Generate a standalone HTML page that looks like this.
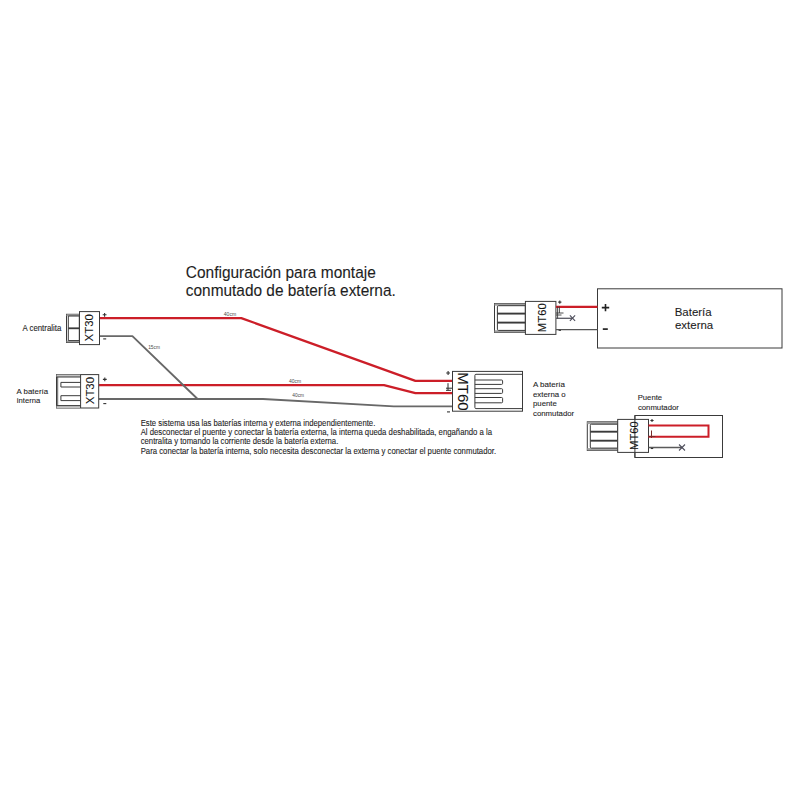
<!DOCTYPE html>
<html><head><meta charset="utf-8">
<style>
html,body{margin:0;padding:0;background:#fff;width:800px;height:800px;overflow:hidden}
svg{display:block}
text{font-family:"Liberation Sans",sans-serif;fill:#1e1e1e;stroke:#1e1e1e;stroke-width:0.1px}
.k{fill:#151515;stroke:#151515;stroke-width:0.08px}
.pm{stroke:#333;stroke-width:1.1;fill:none}
</style></head><body>
<svg width="800" height="800" viewBox="0 0 800 800">
<rect width="800" height="800" fill="#fff"/>

<!-- Title -->
<text x="185.8" y="277.6" font-size="16.2" textLength="190" lengthAdjust="spacingAndGlyphs">Configuración para montaje</text>
<text x="185.8" y="295.6" font-size="16.2" textLength="210" lengthAdjust="spacingAndGlyphs">conmutado de batería externa.</text>

<!-- Left labels -->
<text x="22.5" y="330.9" font-size="8.4" textLength="38.8" lengthAdjust="spacingAndGlyphs">A centralita</text>
<text x="16.6" y="394.3" font-size="8.1" textLength="31.5" lengthAdjust="spacingAndGlyphs">A batería</text>
<text x="16.8" y="403.4" font-size="8.1" textLength="23.4" lengthAdjust="spacingAndGlyphs">interna</text>

<!-- Wires -->
<g fill="none" stroke-linejoin="round">
  <polyline points="99.5,318.1 241.3,318.1 415.4,380.8 452.5,380.8" stroke="#cc1e28" stroke-width="2.3"/>
  <polyline points="98.7,385.2 384,385.2 415.4,393.1 452.5,393.1" stroke="#cc1e28" stroke-width="2.3"/>
  <polyline points="99.5,336.1 132.4,336.1 197.6,399" stroke="#686868" stroke-width="1.9"/>
  <polyline points="98.7,399 263,399 393.8,406.4 452.5,406.4" stroke="#686868" stroke-width="1.9"/>
</g>

<!-- wire labels -->
<text x="223.8" y="315.8" font-size="5" style="fill:#4a4a4a;stroke:none" textLength="12.4" lengthAdjust="spacingAndGlyphs">40cm</text>
<text x="289" y="382.6" font-size="5" style="fill:#4a4a4a;stroke:none" textLength="12.2" lengthAdjust="spacingAndGlyphs">40cm</text>
<text x="292.3" y="396.8" font-size="5" style="fill:#4a4a4a;stroke:none" textLength="11.8" lengthAdjust="spacingAndGlyphs">40cm</text>
<text x="148.2" y="348.8" font-size="5" style="fill:#4a4a4a;stroke:none" textLength="11.8" lengthAdjust="spacingAndGlyphs">15cm</text>

<!-- XT30 top -->
<g fill="none" stroke="#3a3a3a" stroke-width="1">
  <rect x="66.5" y="314.3" width="12.8" height="28.2" fill="#fff"/>
  <rect x="66.5" y="314.3" width="12.8" height="1.8" fill="#a0a0a0" stroke="none"/>
  <rect x="66.5" y="340.6" width="12.8" height="1.8" fill="#a0a0a0" stroke="none"/>
  <line x1="68.3" y1="316" x2="68.3" y2="340.6"/>
  <line x1="68.3" y1="316" x2="79.3" y2="316"/>
  <line x1="68.3" y1="340.6" x2="79.3" y2="340.6"/>
  <line x1="68.3" y1="328.3" x2="79.3" y2="328.3" stroke-width="1.8"/>
  <rect x="79.5" y="311.6" width="20" height="33" fill="#fff"/>
</g>
<text class="k" transform="translate(93.4,327.8) rotate(-90)" font-size="11.4" text-anchor="middle">XT30</text>

<!-- XT30 bottom -->
<g fill="none" stroke="#3a3a3a" stroke-width="1">
  <rect x="56.5" y="374.6" width="42.2" height="33.4" fill="#fff"/>
  <rect x="56.5" y="374.6" width="24" height="2.4" fill="#c4c4c4" stroke="none"/>
  <rect x="56.5" y="405.6" width="24" height="2.4" fill="#c4c4c4" stroke="none"/>
  <line x1="56.5" y1="377" x2="80.6" y2="377"/>
  <line x1="56.5" y1="405.6" x2="80.6" y2="405.6"/>
  <line x1="57.7" y1="377" x2="57.7" y2="405.6" stroke-width="0.8"/>
  <line x1="80.6" y1="374.6" x2="80.6" y2="408"/>
  <path d="M80.6,382.4 H60.9 V387 H80.6"/>
  <path d="M80.6,395.7 H60.9 V400.6 H80.6"/>
</g>
<text class="k" transform="translate(93.6,390.6) rotate(-90)" font-size="11.4" text-anchor="middle">XT30</text>

<!-- MT60 middle -->
<g fill="none" stroke="#3a3a3a" stroke-width="1">
  <rect x="452.5" y="371.4" width="70" height="39.8" fill="#fff"/>
  <path d="M522.5,374.3 H476 Q474.9,374.3 474.9,375.4 V407.5 Q474.9,408.6 476,408.6 H522.5"/>
  <path d="M474.9,380 H501.6 Q502.6,380 502.6,381 V383.4 Q502.6,384.4 501.6,384.4 H474.9"/>
  <path d="M474.9,388.7 H501.6 Q502.6,388.7 502.6,389.7 V392.4 Q502.6,393.4 501.6,393.4 H474.9"/>
  <path d="M474.9,397.5 H501.6 Q502.6,397.5 502.6,398.5 V401.8 Q502.6,402.8 501.6,402.8 H474.9"/>
</g>
<text class="k" transform="translate(457.8,391.4) rotate(90)" font-size="15" text-anchor="middle">MT60</text>
<g stroke="#2a2a2a" stroke-width="1" fill="none">
  <line x1="448" y1="383.2" x2="448" y2="390.4"/>
  <line x1="446" y1="388.2" x2="452" y2="388.2"/>
  <line x1="446" y1="390.3" x2="451" y2="390.3"/>
</g>

<text x="533" y="387.4" font-size="8.1" textLength="32" lengthAdjust="spacingAndGlyphs">A batería</text>
<text x="533" y="396.5" font-size="8.1" textLength="32.6" lengthAdjust="spacingAndGlyphs">externa o</text>
<text x="533" y="405.8" font-size="8.1" textLength="23.8" lengthAdjust="spacingAndGlyphs">puente</text>
<text x="533" y="415.5" font-size="8.1" textLength="41.2" lengthAdjust="spacingAndGlyphs">conmutador</text>

<!-- Paragraph -->
<text x="140.7" y="425.9" font-size="8.4" textLength="234.6" lengthAdjust="spacingAndGlyphs">Este sistema usa las baterías interna y externa independientemente.</text>
<text x="140.7" y="434.9" font-size="8.4" textLength="351.4" lengthAdjust="spacingAndGlyphs">Al desconectar el puente y conectar la batería externa, la interna queda deshabilitada, engañando a la</text>
<text x="140.7" y="444.3" font-size="8.4" textLength="197.6" lengthAdjust="spacingAndGlyphs">centralita y tomando la corriente desde la batería externa.</text>
<text x="140.7" y="453.6" font-size="8.4" textLength="355.4" lengthAdjust="spacingAndGlyphs">Para conectar la batería interna, solo necesita desconectar la externa y conectar el puente conmutador.</text>

<!-- Top right: MT60 + Bateria externa -->
<g fill="none" stroke="#3a3a3a" stroke-width="1">
  <rect x="494.5" y="303.5" width="30.8" height="28.9" fill="#fff"/>
  <rect x="494.5" y="303.5" width="30.8" height="2.2" fill="#a0a0a0" stroke="none"/>
  <rect x="494.5" y="330.3" width="30.8" height="2.1" fill="#a0a0a0" stroke="none"/>
  <path d="M525.3,305.7 H498.5 Q497.4,305.7 497.4,306.8 V329.3 Q497.4,330.4 498.5,330.4 H525.3"/>
  <line x1="497.4" y1="313.6" x2="525.3" y2="313.6" stroke-width="1.9"/>
  <line x1="497.4" y1="322.6" x2="525.3" y2="322.6" stroke-width="1.9"/>
  <rect x="525.4" y="301.4" width="30.5" height="33" fill="#fff"/>
  <rect x="597.5" y="288.8" width="184.5" height="59.2"/>
</g>
<text class="k" transform="translate(546.3,317.7) rotate(-90)" font-size="11.3" text-anchor="middle">MT60</text>
<line x1="556" y1="306.8" x2="597.5" y2="306.8" stroke="#cc1e28" stroke-width="2.2"/>
<line x1="556" y1="329.7" x2="597.5" y2="329.7" stroke="#555" stroke-width="1.3"/>
<line x1="556" y1="318.3" x2="572.5" y2="318.3" stroke="#5a5a64" stroke-width="1.3"/>
<g stroke="#4e4e5c" stroke-width="1.1">
  <line x1="569.9" y1="315.3" x2="575.1" y2="320.9"/>
  <line x1="575.1" y1="315.3" x2="569.9" y2="320.9"/>
</g>
<g stroke="#3a3a3a" stroke-width="0.9" fill="none">
  <line x1="557.6" y1="306.5" x2="557.6" y2="318.5"/>
  <line x1="559.4" y1="306.5" x2="559.4" y2="313"/>
  <line x1="556" y1="313" x2="563.5" y2="313"/>
  <line x1="556" y1="315" x2="561.5" y2="315"/>
</g>
<text x="674.7" y="316.1" font-size="11.6" textLength="37" lengthAdjust="spacingAndGlyphs">Batería</text>
<text x="675" y="328.9" font-size="11.6" textLength="38.2" lengthAdjust="spacingAndGlyphs">externa</text>

<!-- Puente conmutador -->
<text x="637.7" y="400.3" font-size="8.1" textLength="24.4" lengthAdjust="spacingAndGlyphs">Puente</text>
<text x="637.9" y="410.1" font-size="8.1" textLength="41" lengthAdjust="spacingAndGlyphs">conmutador</text>
<g fill="none" stroke="#3a3a3a" stroke-width="1">
  <rect x="634.9" y="415.5" width="87.6" height="42"/>
  <rect x="587.3" y="421.8" width="30.4" height="28.7" fill="#fff"/>
  <rect x="587.3" y="421.8" width="30.4" height="2.4" fill="#a0a0a0" stroke="none"/>
  <rect x="587.3" y="448.1" width="30.4" height="2.4" fill="#a0a0a0" stroke="none"/>
  <path d="M617.7,424.2 H591.4 Q590.3,424.2 590.3,425.3 V447 Q590.3,448.1 591.4,448.1 H617.7"/>
  <line x1="590.3" y1="431.7" x2="617.7" y2="431.7" stroke-width="1.9"/>
  <line x1="590.3" y1="440.7" x2="617.7" y2="440.7" stroke-width="1.9"/>
  <rect x="617.7" y="419.4" width="30.8" height="33" fill="#fff"/>
  <line x1="634.9" y1="415.5" x2="634.9" y2="457.5"/>
</g>
<text class="k" transform="translate(638,435.6) rotate(-90)" font-size="11.2" text-anchor="middle">MT60</text>
<path d="M648.5,425.5 H708.5 V436.8 H648.5" fill="none" stroke="#cc1e28" stroke-width="2"/>
<line x1="648.5" y1="447.5" x2="682" y2="447.5" stroke="#5a5a5a" stroke-width="1.3"/>
<g stroke="#4e4e5c" stroke-width="1.1">
  <line x1="679" y1="444.5" x2="685" y2="450.5"/>
  <line x1="685" y1="444.5" x2="679" y2="450.5"/>
</g>
<g stroke="#7a2a2a" stroke-width="1" fill="none">
  <line x1="651.5" y1="430.5" x2="651.5" y2="438"/>
  <line x1="648.5" y1="436.5" x2="655.5" y2="436.5"/>
</g>

<!-- signs -->
<path class="pm" d="M102.70,314.80H106.50M104.60,312.90V316.70"/>
<path class="pm" d="M103.20,338.90H106.20"/>
<path class="pm" d="M102.90,379.40H106.70M104.80,377.50V381.30"/>
<path class="pm" d="M103.30,403.60H106.30"/>
<path class="pm" d="M446.20,373.00H450.00M448.10,371.10V374.90"/>
<path class="pm" d="M447.00,411.90H450.00"/>
<path class="pm" d="M558.20,302.10H561.40M559.80,300.50V303.70"/>
<path class="pm" d="M558.60,330.30H561.00"/>
<path class="pm" d="M650.40,420.50H653.60M652.00,418.90V422.10"/>
<path class="pm" d="M650.80,448.50H653.20"/>
<path class="pm" style="stroke-width:1.6;stroke:#222" d="M601.8,307.6H609.2M605.5,303.9V311.3"/>
<path class="pm" style="stroke-width:1.7;stroke:#222" d="M602.8,329.1H607.8"/>
</svg>
</body></html>
